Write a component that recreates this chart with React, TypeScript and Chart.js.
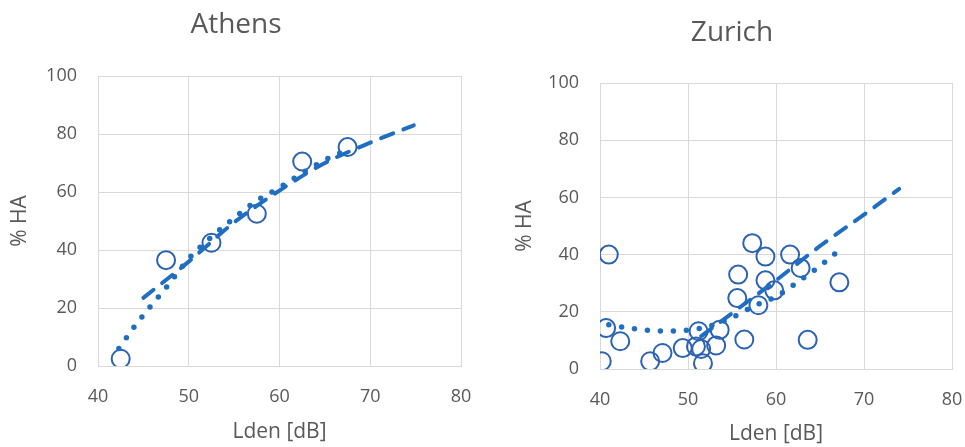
import { useEffect, useRef } from "react";
import { Chart, registerables } from "chart.js";

Chart.register(...registerables);

// Athens: survey points and the two fitted curves
const athensLden = [42.5, 47.5, 52.5, 57.5, 62.5, 67.5];
const athensHA = [2.5, 36.5, 42.5, 52.5, 70.5, 75.5];
const athensDashX = [45, 50, 55, 60, 65, 70, 74.8];
const athensDashY = [23.5, 36, 49.5, 60.5, 70, 77, 83];
const athensDotX = [42.3, 44, 45.5, 47.5, 50, 52.5, 55, 57.5, 60, 62.5, 65, 67.5];
const athensDotY = [6, 13.5, 19.5, 27, 37, 44.5, 51, 57, 61.5, 66.5, 71, 74.5];

// Zurich: survey points and the two fitted curves
const zurichLden = [
  41, 40.7, 40.2, 42.3, 45.7, 47.1, 49.4, 51.2, 50.9, 51.5, 51.7, 53.2, 53.6,
  55.7, 55.6, 56.4, 57.3, 58.8, 58.8, 58, 59.8, 61.6, 62.8, 63.6, 67.2,
];
const zurichHA = [
  40, 14.3, 2.7, 9.7, 2.7, 5.6, 7.3, 13.2, 7.9, 7, 2, 8.2, 13.7,
  33, 24.8, 10.3, 44, 39.3, 31, 22.3, 27.5, 40, 35.3, 10.2, 30.3,
];
const zurichDashX = [51.5, 55, 60, 65, 70, 74];
const zurichDashY = [11.5, 19.5, 31, 43, 54, 63];
const zurichDotX = [41, 44, 47.5, 50, 52.5, 55, 57.5, 60, 62.5, 65, 66.7];
const zurichDotY = [15.5, 14, 13.3, 13.6, 15, 18, 22, 25.3, 30.5, 36, 40.3];

const xTicks = [40, 50, 60, 70, 80];
const yTicks = [0, 20, 40, 60, 80, 100];

const FONT = "'Open Sans', 'DejaVu Sans', sans-serif";
const TEXT = "#595959";
const GRID = "#D9D9D9";
const MARK = "#2C62B2";
const LINE = "#1F6EC2";
const H = 447;

const pairs = (xs: number[], ys: number[]) => xs.map((x, i) => ({ x, y: ys[i] }));

type Panel = {
  title: string;
  left: number;
  width: number;
  titleX: number;
  titleBaseline: number;
  pad: { left: number; top: number; right: number };
  yWidth: number;
  xHeight: number;
  xTitlePad: number;
  points: { x: number; y: number }[];
  dashed: { x: number; y: number }[];
  dotted: { x: number; y: number }[];
};

const panels: Panel[] = [
  {
    title: "Athens",
    left: 0,
    width: 480,
    titleX: 236,
    titleBaseline: 33,
    pad: { left: 0, top: 76, right: 19 },
    yWidth: 98,
    xHeight: 81,
    xTitlePad: 2,
    points: pairs(athensLden, athensHA),
    dashed: pairs(athensDashX, athensDashY),
    dotted: pairs(athensDotX, athensDotY),
  },
  {
    title: "Zurich",
    left: 480,
    width: 485,
    titleX: 252,
    titleBaseline: 41,
    pad: { left: 25, top: 83, right: 13 },
    yWidth: 95,
    xHeight: 78,
    xTitlePad: 0,
    points: pairs(zurichLden, zurichHA),
    dashed: pairs(zurichDashX, zurichDashY),
    dotted: pairs(zurichDotX, zurichDotY),
  },
];

function PanelChart({ p }: { p: Panel }) {
  const ref = useRef<HTMLCanvasElement | null>(null);

  useEffect(() => {
    if (!ref.current) return;
    const titlePlugin = {
      id: "panelTitle",
      afterDraw(chart: Chart) {
        const ctx = chart.ctx;
        ctx.save();
        ctx.font = `28px ${FONT}`;
        ctx.fillStyle = TEXT;
        ctx.textAlign = "center";
        ctx.textBaseline = "alphabetic";
        ctx.fillText(p.title, p.titleX, p.titleBaseline);
        ctx.restore();
      },
    };

    const chart = new Chart(ref.current, {
      type: "scatter",
      data: {
        datasets: [
          {
            label: "dashed fit",
            data: p.dashed,
            showLine: true,
            borderColor: LINE,
            borderWidth: 4,
            borderDash: [13, 11],
            borderCapStyle: "round",
            pointRadius: 0,
            cubicInterpolationMode: "monotone",
            order: 1,
          },
          {
            label: "dotted fit",
            data: p.dotted,
            showLine: true,
            borderColor: LINE,
            borderWidth: 5.5,
            borderDash: [0, 13],
            borderCapStyle: "round",
            pointRadius: 0,
            cubicInterpolationMode: "monotone",
            order: 0,
          },
          {
            label: "% HA",
            data: p.points,
            showLine: false,
            pointStyle: "circle",
            pointRadius: 9,
            pointBorderWidth: 2,
            pointBorderColor: MARK,
            pointBackgroundColor: "rgba(0,0,0,0)",
            order: 2,
          },
        ],
      },
      options: {
        animation: false,
        responsive: false,
        events: [],
        layout: { padding: { left: p.pad.left, top: p.pad.top, right: p.pad.right, bottom: 0 } },
        plugins: { legend: { display: false }, tooltip: { enabled: false }, title: { display: false } },
        scales: {
          x: {
            type: "linear",
            min: 40,
            max: 80,
            afterBuildTicks: (s: any) => {
              s.ticks = xTicks.map((v) => ({ value: v }));
            },
            afterFit: (s: any) => {
              s.height = p.xHeight;
              s.paddingLeft = 0;
              s.paddingRight = 0;
            },
            grid: { color: GRID, lineWidth: 1, drawTicks: false },
            border: { color: GRID },
            ticks: { color: TEXT, font: { family: FONT, size: 18 }, padding: 20 },
            title: {
              display: true,
              text: "Lden [dB]",
              color: TEXT,
              font: { family: FONT, size: 21 },
              padding: { top: 0, bottom: p.xTitlePad },
            },
          },
          y: {
            type: "linear",
            min: 0,
            max: 100,
            afterBuildTicks: (s: any) => {
              s.ticks = yTicks.map((v) => ({ value: v }));
            },
            afterFit: (s: any) => {
              s.width = p.yWidth;
              s.paddingTop = 0;
              s.paddingBottom = 0;
            },
            grid: { color: GRID, lineWidth: 1, drawTicks: false },
            border: { color: GRID },
            ticks: { color: TEXT, font: { family: FONT, size: 18 }, padding: 21 },
            title: {
              display: true,
              text: "% HA",
              color: TEXT,
              font: { family: FONT, size: 21 },
              padding: { top: 7, bottom: 0 },
            },
          },
        },
      },
      plugins: [titlePlugin],
    } as any);
    return () => chart.destroy();
  }, [p]);

  return (
    <canvas
      ref={ref}
      width={p.width}
      height={H}
      style={{ position: "absolute", left: p.left, top: 0, width: p.width, height: H }}
    />
  );
}

export default function App() {
  return (
    <div style={{ position: "fixed", left: 0, top: 0, width: 965, height: H, background: "#fff" }}>
      {panels.map((p) => (
        <PanelChart key={p.title} p={p} />
      ))}
    </div>
  );
}
